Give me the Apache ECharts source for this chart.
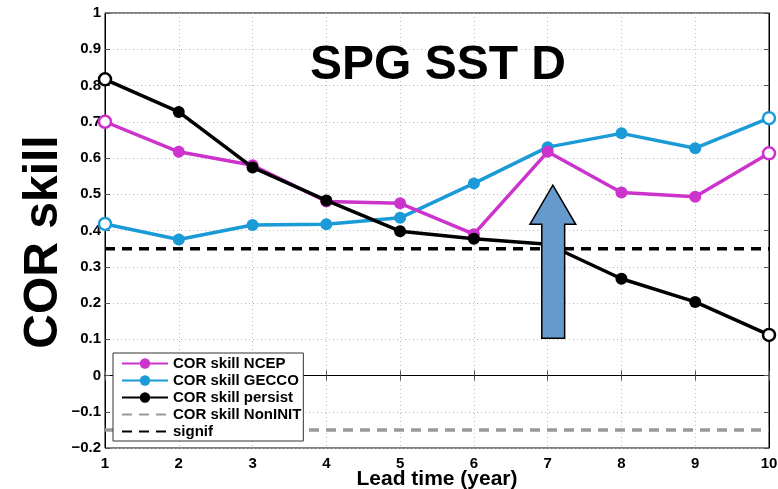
<!DOCTYPE html>
<html>
<head>
<meta charset="utf-8">
<script src="https://cdn.jsdelivr.net/npm/echarts@6/dist/echarts.min.js"></script>
<style>
  html, body { margin: 0; padding: 0; background: #fff; }
  #chart { width: 778px; height: 489px; }
</style>
</head>
<body>
<div id="chart"></div>
<script>
// lead time (year)
const leadTime = [1, 2, 3, 4, 5, 6, 7, 8, 9, 10];
// COR skill values
const corNCEP = [0.70, 0.617, 0.58, 0.48, 0.475, 0.39, 0.617, 0.505, 0.493, 0.613];
const corGECCO = [0.418, 0.375, 0.415, 0.417, 0.435, 0.53, 0.63, 0.668, 0.627, 0.71];
const corPersist = [0.817, 0.727, 0.574, 0.483, 0.398, 0.377, 0.362, 0.267, 0.203, 0.112];
const nonInitLevel = -0.15;
const signifLevel = 0.35;

const FONT = "'Liberation Sans', Arial, sans-serif";
const chart = echarts.init(document.getElementById("chart"));

// 首尾两个点画成空心圆，中间点实心
function pts(vals, color) {
  return vals.map((v, i) => {
    const p = { value: [leadTime[i], v] };
    if (i === 0 || i === vals.length - 1) {
      p.itemStyle = { color: "#fff", borderColor: color, borderWidth: 2.5 };
    }
    return p;
  });
}
function flat(v) {
  return [[leadTime[0], v], [leadTime[leadTime.length - 1], v]];
}

const tickStyle = { fontFamily: FONT, fontWeight: "bold", fontSize: 15, color: "#000" };

const option = {
  animation: false,
  title: {
    text: "SPG SST D",
    left: 433, top: 37, textAlign: "center",
    textStyle: { fontFamily: FONT, fontWeight: "bold", fontSize: 48, color: "#000" },
  },
  grid: {
    left: 105, right: 9, top: 13, bottom: 41,
    outerBoundsMode: "none", containLabel: false,
    show: true, borderColor: "#000", borderWidth: 1,
  },
  legend: {
    orient: "vertical",
    left: 113, top: 353,
    padding: [3, 2, 2, 8],
    itemWidth: 46, itemHeight: 13, itemGap: 2,
    backgroundColor: "#fff",
    borderColor: "#333", borderWidth: 1,
    textStyle: { fontFamily: FONT, fontWeight: "bold", fontSize: 15, color: "#000", lineHeight: 15 },
    data: [
      "COR skill NCEP", "COR skill GECCO", "COR skill persist",
      { name: "COR skill NonINIT", itemStyle: { opacity: 0 } },
      { name: "signif", itemStyle: { opacity: 0 } },
    ],
  },
  xAxis: [
    {
      type: "value", min: 1, max: 10, interval: 1,
      name: "Lead time (year)", nameLocation: "middle", nameGap: 21, nameMoveOverlap: false,
      nameTextStyle: { fontFamily: FONT, fontWeight: "bold", fontSize: 21, color: "#000" },
      axisLine: { lineStyle: { color: "#000" } },
      axisTick: { inside: true, length: 5, lineStyle: { color: "#555" } },
      axisLabel: Object.assign({ margin: 8 }, tickStyle),
      splitLine: { show: true, lineStyle: { color: "#bbb", type: [1, 3] } },
    },
    {
      type: "value", min: 1, max: 10, interval: 1, position: "top",
      axisLine: { show: true, lineStyle: { color: "#000" } },
      axisTick: { inside: true, length: 5, lineStyle: { color: "#555" } },
      axisLabel: { show: false }, splitLine: { show: false },
    },
  ],
  yAxis: [
    {
      type: "value", min: -0.2, max: 1, interval: 0.1,
      axisLine: { show: true, lineStyle: { color: "#000" } },
      axisTick: { show: true, inside: true, length: 5, lineStyle: { color: "#555" } },
      axisLabel: Object.assign({
        margin: 4,
        formatter: (v) => {
          const r = Math.round(v * 10) / 10;
          if (r === 0) return "0";
          if (r === 1) return "1";
          return (r < 0 ? "\u2212" : "") + Math.abs(r).toFixed(1);
        },
      }, tickStyle),
      splitLine: { show: true, lineStyle: { color: "#bbb", type: [1, 3] } },
    },
    {
      type: "value", min: -0.2, max: 1, interval: 0.1, position: "right",
      axisLine: { show: true, lineStyle: { color: "#000" } },
      axisTick: { show: true, inside: true, length: 5, lineStyle: { color: "#555" } },
      axisLabel: { show: false }, splitLine: { show: false },
    },
  ],
  series: [
    {
      name: "COR skill NonINIT", type: "line", data: flat(nonInitLevel),
      symbol: "none", lineStyle: { color: "#999", width: 3.5, type: [10, 7] },
      itemStyle: { color: "#999" }, z: 1,
    },
    {
      name: "signif", type: "line", data: flat(signifLevel),
      symbol: "none", lineStyle: { color: "#000", width: 3.5, type: [10, 7] },
      itemStyle: { color: "#000" }, z: 1,
    },
    {
      name: "COR skill GECCO", type: "line", data: pts(corGECCO, "#1a9ad6"),
      symbol: "circle", symbolSize: 12,
      lineStyle: { color: "#1a9ad6", width: 3.5 }, itemStyle: { color: "#1a9ad6" }, z: 3,
    },
    {
      name: "COR skill NCEP", type: "line", data: pts(corNCEP, "#cc33cc"),
      symbol: "circle", symbolSize: 12,
      lineStyle: { color: "#cc33cc", width: 3.5 }, itemStyle: { color: "#cc33cc" }, z: 4,
    },
    {
      name: "COR skill persist", type: "line", data: pts(corPersist, "#000"),
      symbol: "circle", symbolSize: 12,
      lineStyle: { color: "#000", width: 3.5 }, itemStyle: { color: "#000" }, z: 5,
    },
  ],
};
chart.setOption(option);

// 蓝色箭头（数据坐标换算到像素）
const arrowData = [
  [7.07, 0.525], [7.38, 0.417], [7.23, 0.417], [7.23, 0.103],
  [6.92, 0.103], [6.92, 0.417], [6.76, 0.417],
];
const arrowPx = arrowData.map((p) => chart.convertToPixel({ xAxisIndex: 0, yAxisIndex: 0 }, p));
chart.setOption({
  graphic: [
    {
      // 纵轴标题，位置比绘图区中心略低
      id: "ylabel", type: "text", z: 50,
      x: 44, y: 242, rotation: Math.PI / 2,
      style: {
        text: "COR skill", fill: "#000",
        font: "bold 48px " + FONT,
        align: "center", verticalAlign: "middle",
      },
    },
    {
      id: "arrow", type: "polygon", z: 100,
      shape: { points: arrowPx },
      style: { fill: "#6699cc", stroke: "#000", lineWidth: 1.5 },
    },
  ],
});
</script>
</body>
</html>
